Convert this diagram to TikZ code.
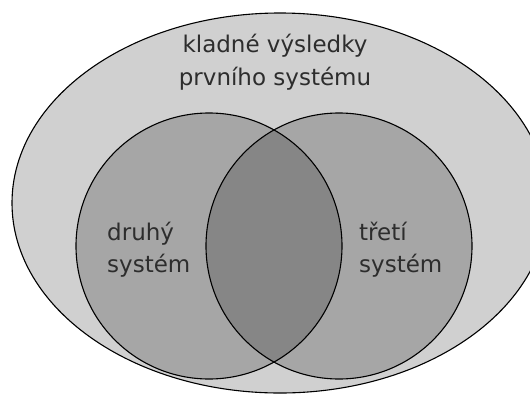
\documentclass[tikz,border=0pt]{standalone}
\usepackage{fontspec}
\setmainfont{DejaVu Sans}
\definecolor{outergray}{RGB}{208,208,208}
\definecolor{setgray}{RGB}{166,166,166}
\definecolor{overlapgray}{RGB}{134,134,134}
\definecolor{labelgray}{RGB}{45,45,45}
\tikzset{
  outline/.style={draw=black, line width=1.1pt},
  toplab/.style={font=\fontsize{23}{33}\selectfont, text=labelgray,
                 inner sep=0pt, align=center, anchor=base},
  setlab/.style={font=\fontsize{23}{32}\selectfont, text=labelgray,
                 inner sep=0pt, align=left, anchor=base west},
}
\begin{document}
\begin{tikzpicture}[x=1pt,y=-1pt]
  \useasboundingbox (0,0) rectangle (530,394);
  \clip (0,0) rectangle (530,394);
  \fill[white] (0,0) rectangle (530,394);

  % outer set: positive results of the first system
  \coordinate (first) at (280,203);
  \fill[outergray] (first) ellipse [x radius=268, y radius=190];
  \draw[outline] (first) ellipse [x radius=268, y radius=190];

  % second and third system
  \coordinate (second) at (209,246);
  \coordinate (third) at (339,246);
  \fill[setgray] (second) circle [radius=133];
  \fill[setgray] (third) circle [radius=133];
  \begin{scope}
    \clip (second) circle [radius=133];
    \fill[overlapgray] (third) circle [radius=133];
  \end{scope}
  \draw[outline] (second) circle [radius=133];
  \draw[outline] (third) circle [radius=133];

  % labels (base = last line)
  \node[toplab] (firstlab) at (275,85) {kladné výsledky\\prvního systému};
  \node[setlab] (secondlab) at (107,272) {druhý\\systém};
  \node[setlab] (thirdlab) at (359,272) {třetí\\systém};
\end{tikzpicture}
\end{document}
